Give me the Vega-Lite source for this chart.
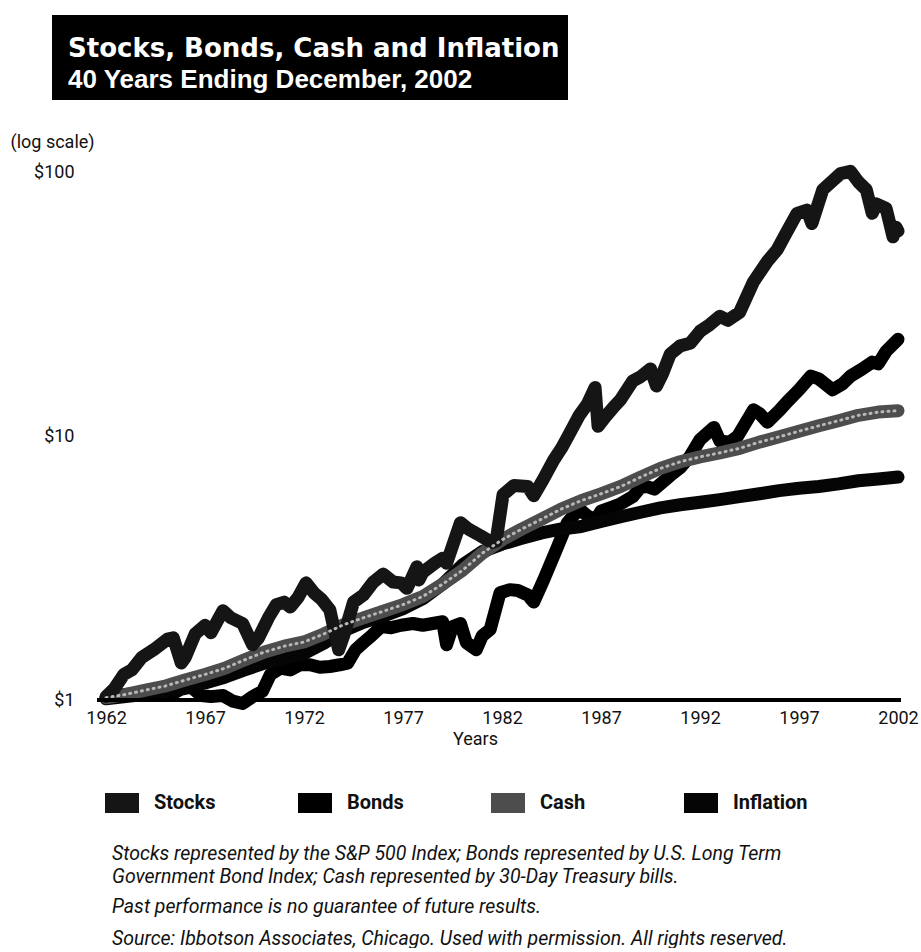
{
  "$schema": "https://vega.github.io/schema/vega-lite/v6.json",
  "background": "#ffffff",
  "padding": {"left": 10, "top": 15, "right": 5, "bottom": 0},
  "config": {"view": {"stroke": null}, "font": "Roboto"},
  "title": {
    "text": ["Stocks represented by the S&P 500 Index; Bonds represented by U.S. Long Term", "Government Bond Index; Cash represented by 30-Day Treasury bills."],
    "subtitle": ["Past performance is no guarantee of future results.", "Source: Ibbotson Associates, Chicago. Used with permission. All rights reserved."],
    "orient": "bottom", "anchor": "start", "frame": "bounds", "dx": 102, "offset": 2,
    "font": "Roboto", "fontSize": 19.5, "fontStyle": "italic", "fontWeight": "normal", "color": "#111", "lineHeight": 23,
    "subtitleFont": "Roboto", "subtitleFontSize": 19.5, "subtitleFontStyle": "italic", "subtitleColor": "#111", "subtitleLineHeight": 32, "subtitlePadding": 10
  },
  "spacing": 26,
  "vconcat": [
    {
      "width": 516, "height": 85,
      "view": {"fill": "#000000", "stroke": null},
      "data": {"values": [
        {"line": 1, "text": "Stocks, Bonds, Cash and Inflation"},
        {"line": 2, "text": "40 Years Ending December, 2002"}
      ]},
      "encoding": {
        "x": {"datum": 0, "type": "quantitative", "scale": {"domain": [0, 1]}, "axis": null},
        "y": {"field": "line", "type": "ordinal", "scale": {"domain": [1, 2], "range": [42, 73], "padding": 0}, "axis": null},
        "text": {"field": "text"}
      },
      "layer": [
        {"transform": [{"filter": "datum.line == 1"}],
         "mark": {"type": "text", "align": "left", "baseline": "alphabetic", "dx": 16, "color": "#ffffff", "font": "DejaVu Sans", "fontWeight": "bold", "fontSize": 26}},
        {"transform": [{"filter": "datum.line == 2"}],
         "mark": {"type": "text", "align": "left", "baseline": "alphabetic", "dx": 16, "color": "#ffffff", "font": "Liberation Sans", "fontWeight": "bold", "fontSize": 26}}
      ]
    },
    {
      "width": 846, "height": 574,
      "data": {"values": [
        {"series": "Bonds", "year": 1962.0, "value": 1.02},
        {"series": "Bonds", "year": 1962.5, "value": 1.04},
        {"series": "Bonds", "year": 1963.0, "value": 1.05},
        {"series": "Bonds", "year": 1963.5, "value": 1.06},
        {"series": "Bonds", "year": 1964.0, "value": 1.08},
        {"series": "Bonds", "year": 1964.5, "value": 1.09},
        {"series": "Bonds", "year": 1965.0, "value": 1.08},
        {"series": "Bonds", "year": 1965.5, "value": 1.07},
        {"series": "Bonds", "year": 1965.8, "value": 1.10},
        {"series": "Bonds", "year": 1966.3, "value": 1.12},
        {"series": "Bonds", "year": 1966.8, "value": 1.04},
        {"series": "Bonds", "year": 1967.3, "value": 1.03},
        {"series": "Bonds", "year": 1967.9, "value": 1.04},
        {"series": "Bonds", "year": 1968.4, "value": 0.99},
        {"series": "Bonds", "year": 1968.9, "value": 0.97},
        {"series": "Bonds", "year": 1969.4, "value": 1.03},
        {"series": "Bonds", "year": 1969.9, "value": 1.08},
        {"series": "Bonds", "year": 1970.3, "value": 1.25},
        {"series": "Bonds", "year": 1970.8, "value": 1.32},
        {"series": "Bonds", "year": 1971.3, "value": 1.30},
        {"series": "Bonds", "year": 1971.8, "value": 1.36},
        {"series": "Bonds", "year": 1972.3, "value": 1.36},
        {"series": "Bonds", "year": 1972.8, "value": 1.33},
        {"series": "Bonds", "year": 1973.3, "value": 1.34},
        {"series": "Bonds", "year": 1973.8, "value": 1.36},
        {"series": "Bonds", "year": 1974.2, "value": 1.38},
        {"series": "Bonds", "year": 1974.6, "value": 1.55},
        {"series": "Bonds", "year": 1975.0, "value": 1.65},
        {"series": "Bonds", "year": 1975.4, "value": 1.75},
        {"series": "Bonds", "year": 1975.9, "value": 1.90},
        {"series": "Bonds", "year": 1976.4, "value": 1.88},
        {"series": "Bonds", "year": 1976.9, "value": 1.92},
        {"series": "Bonds", "year": 1977.5, "value": 1.95},
        {"series": "Bonds", "year": 1978.0, "value": 1.92},
        {"series": "Bonds", "year": 1978.5, "value": 1.95},
        {"series": "Bonds", "year": 1979.0, "value": 1.98},
        {"series": "Bonds", "year": 1979.2, "value": 1.62},
        {"series": "Bonds", "year": 1979.5, "value": 1.90},
        {"series": "Bonds", "year": 1979.9, "value": 1.95},
        {"series": "Bonds", "year": 1980.2, "value": 1.65},
        {"series": "Bonds", "year": 1980.7, "value": 1.55},
        {"series": "Bonds", "year": 1981.0, "value": 1.75},
        {"series": "Bonds", "year": 1981.4, "value": 1.85},
        {"series": "Bonds", "year": 1981.9, "value": 2.55},
        {"series": "Bonds", "year": 1982.4, "value": 2.62},
        {"series": "Bonds", "year": 1982.8, "value": 2.60},
        {"series": "Bonds", "year": 1983.3, "value": 2.50},
        {"series": "Bonds", "year": 1983.6, "value": 2.35},
        {"series": "Bonds", "year": 1984.1, "value": 2.85},
        {"series": "Bonds", "year": 1984.8, "value": 3.80},
        {"series": "Bonds", "year": 1985.3, "value": 4.70},
        {"series": "Bonds", "year": 1985.9, "value": 5.30},
        {"series": "Bonds", "year": 1986.3, "value": 5.00},
        {"series": "Bonds", "year": 1986.7, "value": 4.80},
        {"series": "Bonds", "year": 1987.0, "value": 5.20},
        {"series": "Bonds", "year": 1987.6, "value": 5.40},
        {"series": "Bonds", "year": 1988.0, "value": 5.55},
        {"series": "Bonds", "year": 1988.6, "value": 5.90},
        {"series": "Bonds", "year": 1989.0, "value": 6.40},
        {"series": "Bonds", "year": 1989.3, "value": 6.45},
        {"series": "Bonds", "year": 1989.7, "value": 6.30},
        {"series": "Bonds", "year": 1990.5, "value": 7.10},
        {"series": "Bonds", "year": 1991.0, "value": 7.60},
        {"series": "Bonds", "year": 1991.5, "value": 8.40},
        {"series": "Bonds", "year": 1992.0, "value": 9.70},
        {"series": "Bonds", "year": 1992.7, "value": 10.8},
        {"series": "Bonds", "year": 1993.0, "value": 9.60},
        {"series": "Bonds", "year": 1993.5, "value": 9.50},
        {"series": "Bonds", "year": 1993.9, "value": 10.0},
        {"series": "Bonds", "year": 1994.7, "value": 12.6},
        {"series": "Bonds", "year": 1995.0, "value": 12.2},
        {"series": "Bonds", "year": 1995.4, "value": 11.3},
        {"series": "Bonds", "year": 1996.0, "value": 12.5},
        {"series": "Bonds", "year": 1996.4, "value": 13.5},
        {"series": "Bonds", "year": 1997.0, "value": 15.0},
        {"series": "Bonds", "year": 1997.6, "value": 16.9},
        {"series": "Bonds", "year": 1998.0, "value": 16.5},
        {"series": "Bonds", "year": 1998.7, "value": 15.0},
        {"series": "Bonds", "year": 1999.2, "value": 15.8},
        {"series": "Bonds", "year": 1999.6, "value": 16.9},
        {"series": "Bonds", "year": 2000.2, "value": 18.0},
        {"series": "Bonds", "year": 2000.7, "value": 19.1},
        {"series": "Bonds", "year": 2001.0, "value": 18.8},
        {"series": "Bonds", "year": 2001.4, "value": 21.0},
        {"series": "Bonds", "year": 2002.0, "value": 23.3},

        {"series": "Inflation", "year": 1962, "value": 1.01},
        {"series": "Inflation", "year": 1963, "value": 1.03},
        {"series": "Inflation", "year": 1964, "value": 1.05},
        {"series": "Inflation", "year": 1965, "value": 1.08},
        {"series": "Inflation", "year": 1966, "value": 1.12},
        {"series": "Inflation", "year": 1967, "value": 1.16},
        {"series": "Inflation", "year": 1968, "value": 1.22},
        {"series": "Inflation", "year": 1969, "value": 1.30},
        {"series": "Inflation", "year": 1970, "value": 1.38},
        {"series": "Inflation", "year": 1971, "value": 1.44},
        {"series": "Inflation", "year": 1972, "value": 1.50},
        {"series": "Inflation", "year": 1973, "value": 1.64},
        {"series": "Inflation", "year": 1974, "value": 1.83},
        {"series": "Inflation", "year": 1975, "value": 1.97},
        {"series": "Inflation", "year": 1976, "value": 2.08},
        {"series": "Inflation", "year": 1977, "value": 2.22},
        {"series": "Inflation", "year": 1978, "value": 2.42},
        {"series": "Inflation", "year": 1979, "value": 2.75},
        {"series": "Inflation", "year": 1980, "value": 3.25},
        {"series": "Inflation", "year": 1981, "value": 3.65},
        {"series": "Inflation", "year": 1982, "value": 3.90},
        {"series": "Inflation", "year": 1983, "value": 4.10},
        {"series": "Inflation", "year": 1984, "value": 4.30},
        {"series": "Inflation", "year": 1985, "value": 4.45},
        {"series": "Inflation", "year": 1986, "value": 4.55},
        {"series": "Inflation", "year": 1987, "value": 4.75},
        {"series": "Inflation", "year": 1988, "value": 4.95},
        {"series": "Inflation", "year": 1989, "value": 5.15},
        {"series": "Inflation", "year": 1990, "value": 5.35},
        {"series": "Inflation", "year": 1991, "value": 5.50},
        {"series": "Inflation", "year": 1992, "value": 5.62},
        {"series": "Inflation", "year": 1993, "value": 5.75},
        {"series": "Inflation", "year": 1994, "value": 5.90},
        {"series": "Inflation", "year": 1995, "value": 6.05},
        {"series": "Inflation", "year": 1996, "value": 6.22},
        {"series": "Inflation", "year": 1997, "value": 6.35},
        {"series": "Inflation", "year": 1998, "value": 6.45},
        {"series": "Inflation", "year": 1999, "value": 6.60},
        {"series": "Inflation", "year": 2000, "value": 6.78},
        {"series": "Inflation", "year": 2001, "value": 6.88},
        {"series": "Inflation", "year": 2002, "value": 7.00},

        {"series": "Cash", "year": 1962, "value": 1.02},
        {"series": "Cash", "year": 1963, "value": 1.05},
        {"series": "Cash", "year": 1964, "value": 1.09},
        {"series": "Cash", "year": 1965, "value": 1.13},
        {"series": "Cash", "year": 1966, "value": 1.19},
        {"series": "Cash", "year": 1967, "value": 1.25},
        {"series": "Cash", "year": 1968, "value": 1.32},
        {"series": "Cash", "year": 1969, "value": 1.42},
        {"series": "Cash", "year": 1970, "value": 1.52},
        {"series": "Cash", "year": 1971, "value": 1.60},
        {"series": "Cash", "year": 1972, "value": 1.66},
        {"series": "Cash", "year": 1973, "value": 1.78},
        {"series": "Cash", "year": 1974, "value": 1.93},
        {"series": "Cash", "year": 1975, "value": 2.05},
        {"series": "Cash", "year": 1976, "value": 2.17},
        {"series": "Cash", "year": 1977, "value": 2.30},
        {"series": "Cash", "year": 1978, "value": 2.47},
        {"series": "Cash", "year": 1979, "value": 2.75},
        {"series": "Cash", "year": 1980, "value": 3.10},
        {"series": "Cash", "year": 1981, "value": 3.60},
        {"series": "Cash", "year": 1982, "value": 4.05},
        {"series": "Cash", "year": 1983, "value": 4.45},
        {"series": "Cash", "year": 1984, "value": 4.85},
        {"series": "Cash", "year": 1985, "value": 5.30},
        {"series": "Cash", "year": 1986, "value": 5.70},
        {"series": "Cash", "year": 1987, "value": 6.05},
        {"series": "Cash", "year": 1988, "value": 6.45},
        {"series": "Cash", "year": 1989, "value": 7.00},
        {"series": "Cash", "year": 1990, "value": 7.55},
        {"series": "Cash", "year": 1991, "value": 8.00},
        {"series": "Cash", "year": 1992, "value": 8.35},
        {"series": "Cash", "year": 1993, "value": 8.65},
        {"series": "Cash", "year": 1994, "value": 9.00},
        {"series": "Cash", "year": 1995, "value": 9.50},
        {"series": "Cash", "year": 1996, "value": 9.95},
        {"series": "Cash", "year": 1997, "value": 10.45},
        {"series": "Cash", "year": 1998, "value": 10.95},
        {"series": "Cash", "year": 1999, "value": 11.45},
        {"series": "Cash", "year": 2000, "value": 12.00},
        {"series": "Cash", "year": 2001, "value": 12.35},
        {"series": "Cash", "year": 2002, "value": 12.50},

        {"series": "Stocks", "year": 1962.0, "value": 1.03},
        {"series": "Stocks", "year": 1962.4, "value": 1.10},
        {"series": "Stocks", "year": 1962.9, "value": 1.25},
        {"series": "Stocks", "year": 1963.3, "value": 1.30},
        {"series": "Stocks", "year": 1963.8, "value": 1.45},
        {"series": "Stocks", "year": 1964.4, "value": 1.55},
        {"series": "Stocks", "year": 1965.1, "value": 1.70},
        {"series": "Stocks", "year": 1965.4, "value": 1.72},
        {"series": "Stocks", "year": 1965.8, "value": 1.38},
        {"series": "Stocks", "year": 1966.0, "value": 1.45},
        {"series": "Stocks", "year": 1966.5, "value": 1.78},
        {"series": "Stocks", "year": 1967.0, "value": 1.92},
        {"series": "Stocks", "year": 1967.3, "value": 1.80},
        {"series": "Stocks", "year": 1967.9, "value": 2.18},
        {"series": "Stocks", "year": 1968.3, "value": 2.05},
        {"series": "Stocks", "year": 1968.9, "value": 1.95},
        {"series": "Stocks", "year": 1969.4, "value": 1.62},
        {"series": "Stocks", "year": 1969.7, "value": 1.72},
        {"series": "Stocks", "year": 1970.2, "value": 2.05},
        {"series": "Stocks", "year": 1970.6, "value": 2.30},
        {"series": "Stocks", "year": 1971.0, "value": 2.35},
        {"series": "Stocks", "year": 1971.3, "value": 2.25},
        {"series": "Stocks", "year": 1971.7, "value": 2.45},
        {"series": "Stocks", "year": 1972.1, "value": 2.78},
        {"series": "Stocks", "year": 1972.5, "value": 2.55},
        {"series": "Stocks", "year": 1972.9, "value": 2.40},
        {"series": "Stocks", "year": 1973.3, "value": 2.20},
        {"series": "Stocks", "year": 1973.75, "value": 1.55},
        {"series": "Stocks", "year": 1974.0, "value": 1.75},
        {"series": "Stocks", "year": 1974.5, "value": 2.35},
        {"series": "Stocks", "year": 1975.0, "value": 2.50},
        {"series": "Stocks", "year": 1975.5, "value": 2.80},
        {"series": "Stocks", "year": 1976.0, "value": 3.00},
        {"series": "Stocks", "year": 1976.5, "value": 2.80},
        {"series": "Stocks", "year": 1976.9, "value": 2.78},
        {"series": "Stocks", "year": 1977.2, "value": 2.65},
        {"series": "Stocks", "year": 1977.7, "value": 3.20},
        {"series": "Stocks", "year": 1977.8, "value": 2.85},
        {"series": "Stocks", "year": 1978.0, "value": 3.05},
        {"series": "Stocks", "year": 1978.6, "value": 3.30},
        {"series": "Stocks", "year": 1979.0, "value": 3.45},
        {"series": "Stocks", "year": 1979.2, "value": 3.30},
        {"series": "Stocks", "year": 1979.9, "value": 4.70},
        {"series": "Stocks", "year": 1980.3, "value": 4.45},
        {"series": "Stocks", "year": 1980.9, "value": 4.20},
        {"series": "Stocks", "year": 1981.5, "value": 3.95},
        {"series": "Stocks", "year": 1981.7, "value": 4.00},
        {"series": "Stocks", "year": 1982.05, "value": 6.00},
        {"series": "Stocks", "year": 1982.6, "value": 6.50},
        {"series": "Stocks", "year": 1983.3, "value": 6.45},
        {"series": "Stocks", "year": 1983.6, "value": 5.95},
        {"series": "Stocks", "year": 1984.1, "value": 6.90},
        {"series": "Stocks", "year": 1984.6, "value": 8.10},
        {"series": "Stocks", "year": 1985.0, "value": 9.00},
        {"series": "Stocks", "year": 1985.4, "value": 10.2},
        {"series": "Stocks", "year": 1985.9, "value": 12.0},
        {"series": "Stocks", "year": 1986.3, "value": 13.2},
        {"series": "Stocks", "year": 1986.7, "value": 15.3},
        {"series": "Stocks", "year": 1986.85, "value": 10.9},
        {"series": "Stocks", "year": 1987.2, "value": 11.8},
        {"series": "Stocks", "year": 1987.6, "value": 12.8},
        {"series": "Stocks", "year": 1988.0, "value": 13.8},
        {"series": "Stocks", "year": 1988.6, "value": 16.2},
        {"series": "Stocks", "year": 1989.0, "value": 16.8},
        {"series": "Stocks", "year": 1989.5, "value": 18.0},
        {"series": "Stocks", "year": 1989.8, "value": 15.5},
        {"series": "Stocks", "year": 1990.1, "value": 17.2},
        {"series": "Stocks", "year": 1990.5, "value": 20.5},
        {"series": "Stocks", "year": 1991.0, "value": 22.0},
        {"series": "Stocks", "year": 1991.5, "value": 22.5},
        {"series": "Stocks", "year": 1992.0, "value": 25.0},
        {"series": "Stocks", "year": 1992.5, "value": 26.5},
        {"series": "Stocks", "year": 1993.0, "value": 28.5},
        {"series": "Stocks", "year": 1993.4, "value": 27.5},
        {"series": "Stocks", "year": 1994.0, "value": 29.5},
        {"series": "Stocks", "year": 1994.7, "value": 38.5},
        {"series": "Stocks", "year": 1995.4, "value": 46.0},
        {"series": "Stocks", "year": 1995.9, "value": 51.0},
        {"series": "Stocks", "year": 1996.3, "value": 58.0},
        {"series": "Stocks", "year": 1996.9, "value": 70.0},
        {"series": "Stocks", "year": 1997.4, "value": 72.0},
        {"series": "Stocks", "year": 1997.65, "value": 64.0},
        {"series": "Stocks", "year": 1998.2, "value": 86.0},
        {"series": "Stocks", "year": 1998.7, "value": 93.0},
        {"series": "Stocks", "year": 1999.1, "value": 99.0},
        {"series": "Stocks", "year": 1999.6, "value": 101.0},
        {"series": "Stocks", "year": 2000.0, "value": 92.0},
        {"series": "Stocks", "year": 2000.4, "value": 86.0},
        {"series": "Stocks", "year": 2000.7, "value": 70.0},
        {"series": "Stocks", "year": 2000.9, "value": 76.0},
        {"series": "Stocks", "year": 2001.4, "value": 73.0},
        {"series": "Stocks", "year": 2001.75, "value": 57.0},
        {"series": "Stocks", "year": 2001.9, "value": 62.0},
        {"series": "Stocks", "year": 2002.0, "value": 60.0}
      ]},
      "layer": [
        {
          "mark": {"type": "line", "strokeWidth": 13, "strokeCap": "round", "strokeJoin": "round"},
          "encoding": {
            "x": {
              "field": "year", "type": "quantitative",
              "scale": {"domain": [1959.27, 2002], "nice": false, "zero": false},
              "axis": {
                "values": [1962, 1967, 1972, 1977, 1982, 1987, 1992, 1997, 2002],
                "format": "d", "domain": false, "ticks": false, "grid": false,
                "labelFont": "Roboto", "labelFontSize": 18, "labelColor": "#111111",
                "labelPadding": 9, "labelFlush": false, "labelOverlap": false,
                "title": "Years", "titleFont": "Roboto", "titleFontSize": 18,
                "titleFontWeight": "normal", "titleColor": "#111111", "titlePadding": 3
              }
            },
            "y": {
              "field": "value", "type": "quantitative",
              "scale": {"type": "log", "domain": [1, 150], "nice": false},
              "axis": {
                "values": [1, 10, 100], "labelExpr": "'$' + datum.value",
                "domain": false, "ticks": false, "grid": false, "offset": -24,
                "labelFont": "Roboto", "labelFontSize": 18, "labelColor": "#111111", "labelPadding": 2,
                "title": "(log scale)", "titleFont": "Roboto", "titleFontSize": 18,
                "titleFontWeight": "normal", "titleColor": "#111111",
                "titleAngle": 0, "titleAlign": "left", "titleBaseline": "middle", "titleX": -66, "titleY": 16
              }
            },
            "color": {
              "field": "series", "type": "nominal",
              "scale": {"domain": ["Stocks", "Bonds", "Cash", "Inflation"], "range": ["#151515", "#000000", "#4d4d4d", "#050505"]},
              "legend": {
                "orient": "none", "legendX": 43, "legendY": 761, "direction": "horizontal",
                "title": null, "symbolType": "stroke", "symbolSize": 1156, "symbolStrokeWidth": 20,
                "labelFont": "Roboto", "labelFontSize": 20, "labelFontWeight": "bold",
                "labelColor": "#111111", "labelOffset": 5, "columnPadding": 29, "gridAlign": "all", "labelLimit": 200
              }
            }
          }
        },
        {
          "transform": [{"filter": "datum.series == 'Cash'"}],
          "mark": {"type": "line", "strokeWidth": 3, "strokeCap": "round", "strokeDash": [1, 5], "color": "#b8b8b8"},
          "encoding": {
            "x": {"field": "year", "type": "quantitative"},
            "y": {"field": "value", "type": "quantitative"}
          }
        },
        {
          "mark": {"type": "rule", "strokeWidth": 4, "color": "#000000"},
          "encoding": {
            "x": {"datum": 1961.55, "type": "quantitative"},
            "x2": {"datum": 2002.15},
            "y": {"datum": 1, "type": "quantitative"}
          }
        }
      ]
    }
  ]
}
